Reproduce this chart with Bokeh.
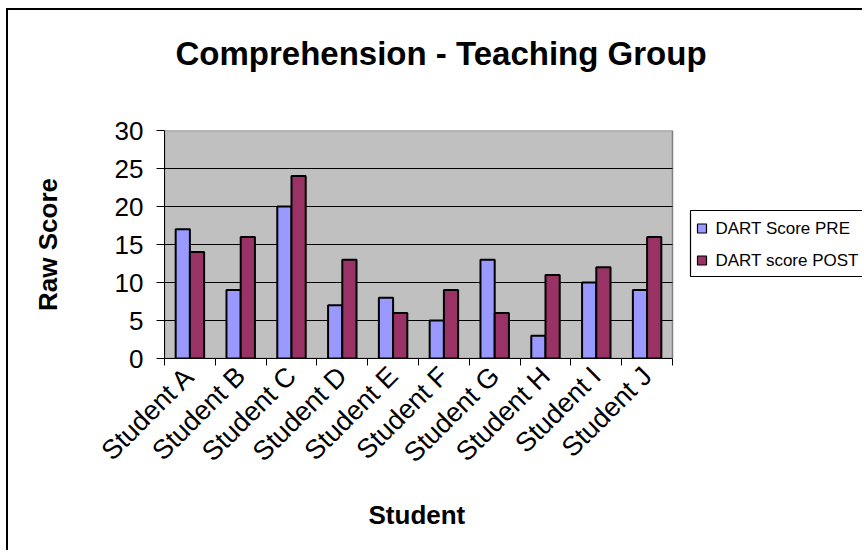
import numpy as np
from bokeh.plotting import figure
from bokeh.models import Range1d, FixedTicker, ColumnDataSource, Title
from bokeh.core.properties import value
from bokeh.embed import file_html
from bokeh.resources import INLINE

students = ["Student A", "Student B", "Student C", "Student D", "Student E",
            "Student F", "Student G", "Student H", "Student I", "Student J"]
pre = [17, 9, 20, 7, 8, 5, 13, 3, 10, 9]
post = [14, 16, 24, 13, 6, 9, 6, 11, 12, 16]
y_ticks = [0, 5, 10, 15, 20, 25, 30]
legend_labels = ["DART Score PRE", "DART score POST"]
colors = ["#9999FF", "#993366"]

FONT = "Liberation Sans"
n = len(students)
centers = np.arange(n) + 0.5
bw = 0.28

W, H = 856, 542
LEFT, BOTTOM, TOP = 156, 194, 120
plot_px = 508  # width of the grey plot area in pixels
x_end = n * (W - LEFT) / plot_px
ymax = y_ticks[-1]
plot_h = H - TOP - BOTTOM  # frame height in pixels

# helpers converting page pixels (legend layout) into data units
ox, oy = 8 + LEFT, 10 + TOP + plot_h  # page position of the data origin
def px_x(px):
    return (px - ox) * n / plot_px
def px_y(py):
    return (oy - py) * ymax / plot_h

p = figure(width=W, height=H, output_backend="svg", toolbar_location=None,
           x_range=Range1d(0, x_end), y_range=Range1d(0, ymax),
           title_location=None,
           min_border_left=LEFT, min_border_right=0,
           min_border_top=TOP, min_border_bottom=BOTTOM)
p.styles = {"margin-left": "6px", "margin-top": "8px",
            "border-left": "2px solid black", "border-top": "2px solid black",
            "border-right": "none", "outline": "none", "box-shadow": "none"}

p.background_fill_color = "white"
p.border_fill_color = "white"
p.outline_line_color = None

# grey plot area
p.quad(left=[0], right=[n], bottom=[y_ticks[0]], top=[ymax],
       fill_color="#C0C0C0", line_color="#808080", line_width=1.5)
# horizontal gridlines
gy = y_ticks[1:-1]
p.segment(x0=[0] * len(gy), x1=[n] * len(gy), y0=gy, y1=gy,
          line_color="black", line_width=1)

src_pre = ColumnDataSource(dict(x=centers - bw / 2, top=pre))
src_post = ColumnDataSource(dict(x=centers + bw / 2, top=post))
p.vbar(x="x", top="top", width=bw, source=src_pre,
       fill_color=colors[0], line_color="black", line_width=2)
p.vbar(x="x", top="top", width=bw, source=src_post,
       fill_color=colors[1], line_color="black", line_width=2)

# legend (drawn by hand)
p.quad(left=[px_x(690)], right=[px_x(890)], top=[px_y(210)], bottom=[px_y(276)],
       fill_color="white", line_color="black", line_width=1.2)
row_y = [px_y(228), px_y(260)]
p.scatter(x=[px_x(701.5)] * 2, y=row_y, marker="square", size=9,
          fill_color=colors, line_color="black", line_width=1.2)
p.text(x=[px_x(715)] * 2, y=row_y, text=legend_labels,
       text_font=value(FONT), text_font_size="17px", text_color="black",
       text_baseline="middle", text_align="left")

# titles: a blank spacer next to the frame, then the chart title above it
p.add_layout(Title(text=" ", text_font_size="10px", standoff=41), "above")
p.add_layout(Title(text="Comprehension - Teaching Group", text_font=FONT,
                   text_font_size="33px", text_font_style="bold",
                   text_color="black", align="left", offset=11, standoff=10),
             "above")
# x axis title, placed under the grey plot area
p.add_layout(Title(text="Student", text_font=FONT, text_font_size="26px",
                   text_font_style="bold", text_color="black",
                   align="left", offset=204, standoff=32), "below")

# x axis
p.xaxis.bounds = (0, n)
p.xaxis.ticker = FixedTicker(ticks=list(centers), minor_ticks=list(range(n + 1)))
p.xaxis.major_label_overrides = {float(c): s for c, s in zip(centers, students)}
p.xaxis.major_label_orientation = np.pi / 4
p.xaxis.major_tick_line_color = None
p.xaxis.minor_tick_line_color = "black"
p.xaxis.minor_tick_in = 0
p.xaxis.minor_tick_out = 7
p.xaxis.major_label_text_font = FONT
p.xaxis.major_label_text_font_size = "27px"
p.xaxis.major_label_text_color = "black"
p.xaxis.major_label_standoff = 6
p.xaxis.axis_line_color = "black"

# y axis
p.yaxis.ticker = FixedTicker(ticks=y_ticks)
p.yaxis.minor_tick_line_color = None
p.yaxis.major_tick_in = 0
p.yaxis.major_tick_out = 8
p.yaxis.major_tick_line_color = "black"
p.yaxis.axis_line_color = "black"
p.yaxis.major_label_text_font = FONT
p.yaxis.major_label_text_font_size = "26px"
p.yaxis.major_label_text_color = "black"
p.yaxis.major_label_standoff = 13
p.yaxis.axis_label = "Raw Score"
p.yaxis.axis_label_text_font = FONT
p.yaxis.axis_label_text_font_size = "26px"
p.yaxis.axis_label_text_font_style = "bold"
p.yaxis.axis_label_text_color = "black"
p.yaxis.axis_label_standoff = 49

p.xgrid.grid_line_color = None
p.ygrid.grid_line_color = None

open("out.html", "w").write(file_html(p, INLINE))
